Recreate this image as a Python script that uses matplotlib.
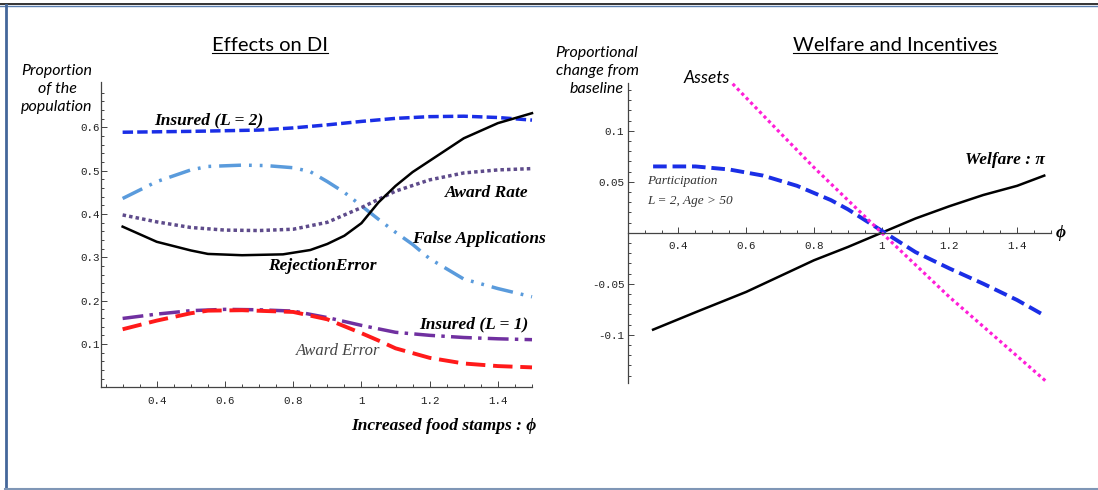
import matplotlib.pyplot as plt
from matplotlib.lines import Line2D
import numpy as np

# ---- left panel: Effects on DI ----
phi_ins2 = [0.3, 0.5, 0.7, 0.8, 0.9, 1.0, 1.1, 1.2, 1.3, 1.4, 1.5]
ins2 = [0.589, 0.591, 0.594, 0.599, 0.606, 0.614, 0.621, 0.625, 0.626, 0.623, 0.617]

phi_false = [0.3, 0.4, 0.5, 0.55, 0.65, 0.72, 0.8, 0.85, 0.9, 0.95, 1.0, 1.05, 1.1, 1.15, 1.2, 1.3, 1.4, 1.5]
false_app = [0.436, 0.475, 0.502, 0.510, 0.513, 0.512, 0.507, 0.498, 0.475, 0.45, 0.419, 0.388, 0.358, 0.33, 0.297, 0.25, 0.228, 0.209]

phi_rate = [0.3, 0.4, 0.5, 0.6, 0.7, 0.8, 0.9, 1.0, 1.1, 1.2, 1.3, 1.4, 1.5]
award_rate = [0.398, 0.382, 0.369, 0.363, 0.362, 0.365, 0.381, 0.415, 0.453, 0.479, 0.495, 0.502, 0.505]

phi_rej = [0.3, 0.4, 0.5, 0.55, 0.65, 0.77, 0.85, 0.9, 0.95, 1.0, 1.05, 1.1, 1.15, 1.2, 1.3, 1.4, 1.5]
rej_err = [0.371, 0.336, 0.316, 0.308, 0.305, 0.307, 0.317, 0.331, 0.350, 0.379, 0.427, 0.465, 0.497, 0.523, 0.575, 0.610, 0.633]

phi_ins1 = [0.3, 0.4, 0.5, 0.6, 0.7, 0.8, 0.9, 1.0, 1.1, 1.2, 1.3, 1.4, 1.5]
ins1 = [0.159, 0.169, 0.177, 0.18, 0.179, 0.176, 0.161, 0.143, 0.127, 0.12, 0.115, 0.112, 0.11]

phi_aerr = [0.3, 0.4, 0.5, 0.55, 0.65, 0.8, 0.9, 1.0, 1.05, 1.1, 1.2, 1.3, 1.4, 1.5]
award_err = [0.134, 0.154, 0.171, 0.177, 0.178, 0.174, 0.157, 0.125, 0.108, 0.09, 0.068, 0.055, 0.049, 0.046]

# ---- right panel: Welfare and Incentives ----
phi_welf = [0.325, 0.45, 0.6, 0.8, 0.9, 1.0, 1.1, 1.2, 1.3, 1.4, 1.48]
welfare = [-0.095, -0.078, -0.058, -0.027, -0.014, 0.0, 0.014, 0.026, 0.037, 0.046, 0.056]

phi_part = [0.325, 0.45, 0.55, 0.65, 0.75, 0.85, 0.9, 1.0, 1.1, 1.2, 1.3, 1.4, 1.48]
participation = [0.065, 0.065, 0.062, 0.056, 0.046, 0.032, 0.023, 0.002, -0.019, -0.035, -0.05, -0.066, -0.081]

phi_assets = [0.56, 0.7, 0.8, 1.0, 1.2, 1.49]
assets = [0.146, 0.098, 0.064, 0.0, -0.063, -0.147]

xtick_vals = [0.4, 0.6, 0.8, 1.0, 1.2, 1.4]
xtick_labels = ['0.4', '0.6', '0.8', '1', '1.2', '1.4']
ytick_left = [0.1, 0.2, 0.3, 0.4, 0.5, 0.6]
ytick_left_labels = ['0.1', '0.2', '0.3', '0.4', '0.5', '0.6']
ytick_right = [-0.1, -0.05, 0.05, 0.1]
ytick_right_labels = ['-0.1', '-0.05', '0.05', '0.1']

W, H = 1098, 490
SERIF = ['Liberation Serif', 'DejaVu Serif']
SANS = ['Lato', 'DejaVu Sans']

fig = plt.figure(figsize=(W / 100, H / 100), dpi=100)


def px_rect(x0, y0, x1, y1):
    return [x0 / W, 1 - y1 / H, (x1 - x0) / W, (y1 - y0) / H]


def style_axes(ax):
    for s in ['top', 'right']:
        ax.spines[s].set_visible(False)
    for s in ['left', 'bottom']:
        ax.spines[s].set_color('#444444')
        ax.spines[s].set_linewidth(0.9)
    ax.tick_params(which='both', direction='in', colors='#444444', width=0.7,
                   labelsize=7.8, labelfontfamily='Liberation Mono', labelcolor='#222222')
    ax.tick_params(which='major', length=4)
    ax.tick_params(which='minor', length=2.2)
    ax.set_xticks(xtick_vals, xtick_labels)
    ax.tick_params(axis='x', pad=6)


# left axes
ax1 = fig.add_axes(px_rect(101, 82, 532, 387.3))
ax1.set_xlim(0.2366, 1.498)
ax1.set_ylim(0, 0.705)
style_axes(ax1)
ax1.set_yticks(ytick_left, ytick_left_labels)
ax1.set_xticks(np.arange(0.25, 1.51, 0.05), minor=True)
ax1.set_yticks(np.arange(0.0, 0.70, 0.02), minor=True)
ax1.tick_params(axis='y', pad=1)

ax1.plot(phi_ins2, ins2, color='#1a2ee6', lw=2.5, dashes=(3, 1.2), clip_on=False)
ax1.plot(phi_false, false_app, color='#5a9bdc', lw=2.5, dashes=(6.3, 2.3, 0.8, 2.3, 0.8, 2.3), clip_on=False)
ax1.plot(phi_rate, award_rate, color='#5e4b8b', lw=2.5, dashes=(1, 0.9), clip_on=False)
ax1.plot(phi_rej, rej_err, color='black', lw=1.8, clip_on=False)
ax1.plot(phi_ins1, ins1, color='#7030a0', lw=2.5, dashes=(6, 1.8, 1, 1.8), clip_on=False)
ax1.plot(phi_aerr, award_err, color='#ff1a1a', lw=2.8, dashes=(5, 2), clip_on=False)

bi = dict(family=SERIF, fontweight='bold', style='italic', fontsize=12.5, clip_on=False)
ax1.text(0.391, 0.617, 'Insured (L = 2)', ha='left', va='center', **bi)
ax1.text(1.489, 0.449, 'Award Rate', ha='right', va='center', **bi)
ax1.text(1.539, 0.343, 'False Applications', ha='right', va='center', **bi)
ax1.text(0.725, 0.280, 'RejectionError', ha='left', va='center', **bi)
ax1.text(1.489, 0.146, 'Insured (L = 1)', ha='right', va='center', **bi)
ax1.text(1.512, -0.089, 'Increased food stamps : \u03d5', ha='right', va='center', **bi)
ax1.text(0.807, 0.084, 'Award Error', ha='left', va='center', family=SERIF,
         style='italic', fontsize=12, color='#444444')

fig.text(57 / W, 1 - 89 / H, 'Proportion\nof the\npopulation', ha='center', va='center',
         family=SANS, style='italic', fontsize=11.5, linespacing=1.4)

# right axes
ax2 = fig.add_axes(px_rect(627.7, 83.3, 1051, 383.3))
ax2.set_xlim(0.25, 1.5)
ax2.set_ylim(-0.1476, 0.1465)
style_axes(ax2)
ax2.spines['bottom'].set_position(('data', 0))
ax2.set_yticks(ytick_right, ytick_right_labels)
ax2.set_xticks(np.arange(0.3, 1.51, 0.05), minor=True)
ax2.set_yticks(np.arange(-0.14, 0.145, 0.01), minor=True)
ax2.tick_params(axis='y', pad=2.5)

ax2.plot(phi_welf, welfare, color='black', lw=1.8, clip_on=False)
ax2.plot(phi_part, participation, color='#1a2ee6', lw=2.8, dashes=(3.5, 1.5), clip_on=False)
ax2.plot(phi_assets, assets, color='#ff1fd8', lw=2.3, dashes=(1, 1), clip_on=False)

ax2.text(0.552, 0.152, 'Assets', ha='right', va='center', family=SANS, style='italic',
         fontsize=12.5, clip_on=False)
ax2.text(1.246, 0.0713, 'Welfare : \u03c0', ha='left', va='center', **bi)
ax2.text(0.307, 0.0507, 'Participation', ha='left', va='center', family=SERIF,
         style='italic', fontsize=9.5, color='#333333')
ax2.text(0.307, 0.031, 'L = 2, Age > 50', ha='left', va='center', family=SERIF,
         style='italic', fontsize=9.5, color='#333333')
ax2.text(1.515, 0.0, '\u03d5', ha='left', va='center', **bi)

fig.text(597 / W, 1 - 71 / H, 'Proportional\nchange from\nbaseline', ha='center', va='center',
         family=SANS, style='italic', fontsize=11.5, linespacing=1.4)

# underlined titles
titles = []
titles.append(fig.text(270 / W, 1 - 51 / H, 'Effects on DI', ha='center', va='baseline',
                       family=SANS, fontsize=14.5))
titles.append(fig.text(895 / W, 1 - 51 / H, 'Welfare and Incentives', ha='center', va='baseline',
                       family=SANS, fontsize=14.5))
fig.canvas.draw()
inv = fig.transFigure.inverted()
for t in titles:
    bb = t.get_window_extent().transformed(inv)
    y_ul = 1 - 53.5 / H
    fig.add_artist(Line2D([bb.x0, bb.x1], [y_ul, y_ul], transform=fig.transFigure,
                          color='black', lw=0.8))

# slide border
fig.add_artist(Line2D([0, 1], [1 - 4.5 / H, 1 - 4.5 / H], transform=fig.transFigure, color='#111111', lw=1.2))
fig.add_artist(Line2D([0, 1], [1 - 6 / H, 1 - 6 / H], transform=fig.transFigure, color='#5b7fb0', lw=1.0))
fig.add_artist(Line2D([6 / W, 6 / W], [1 - 5 / H, 1 - 488.5 / H], transform=fig.transFigure, color='#44679a', lw=2.0))
fig.add_artist(Line2D([5 / W, 1], [1 - 488.5 / H, 1 - 488.5 / H], transform=fig.transFigure, color='#7f96b6', lw=1.5))

fig.savefig('out.png', dpi=100)
